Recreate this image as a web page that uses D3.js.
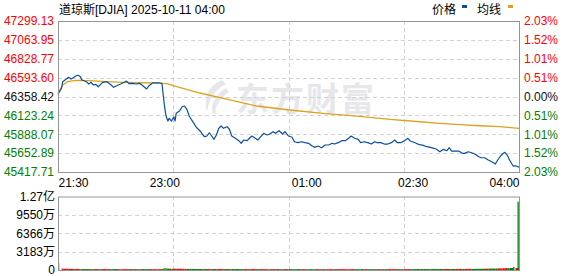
<!doctype html>
<html>
<head>
<meta charset="utf-8">
<title>DJIA intraday</title>
<script src="https://cdn.jsdelivr.net/npm/d3@7"></script>
<style>
  body { margin: 0; background: #fff; }
  svg { display: block; }
</style>
</head>
<body>
<svg id="chart" width="578" height="276"></svg>
<script>
// ---- data ----
const prevClose = 46358.42;
const priceTicks = [47299.13, 47063.95, 46828.77, 46593.60, 46358.42, 46123.24, 45888.07, 45652.89, 45417.71];
const pctLabels = ["2.03%", "1.52%", "1.01%", "0.51%", "0.00%", "0.51%", "1.01%", "1.52%", "2.03%"];
const timeMins = [0, 90, 210, 300, 390];
const timeLabels = ["21:30", "23:00", "01:00", "02:30", "04:00"];
const gridMins = [97.5, 195, 292.5];
const volTicks = [12733, 9550, 6366, 3183, 0];
const volLabels = ["1.27亿", "9550万", "6366万", "3183万", "0"];

// minutes after 21:30
const priceMin = [
  0, 3, 4, 7, 9, 11, 13, 15, 17, 19,
  20, 22, 24, 26, 28, 30, 32, 34, 36, 38,
  41, 43, 45, 47, 51, 53, 56, 58, 60, 63,
  66, 69, 71, 73, 75, 77, 80, 83, 85, 88,
  89, 90, 91, 92, 93, 94, 96, 98, 99, 100,
  103, 105, 107, 109, 111, 113, 115, 117, 120, 122,
  124, 126, 128, 130, 132, 134, 136, 138, 140, 143,
  145, 147, 150, 153, 155, 157, 160, 162, 164, 167,
  169, 171, 174, 177, 179, 182, 184, 187, 190, 192,
  195, 198, 200, 203, 206, 209, 212, 215, 217, 220,
  223, 226, 229, 232, 234, 237, 240, 243, 246, 248,
  251, 254, 256, 259, 262, 265, 268, 270, 273, 276,
  279, 282, 285, 287, 290, 293, 296, 298, 301, 303,
  306, 309, 312, 315, 318, 320, 323, 326, 329, 331,
  333, 336, 339, 342, 344, 347, 350, 353, 356, 358,
  361, 364, 367, 370, 372, 374, 376, 378, 380, 382,
  385, 387, 390
];
const priceVal = [
  46386, 46461, 46543, 46576, 46598, 46576, 46593, 46614, 46623, 46605,
  46568, 46555, 46543, 46514, 46535, 46502, 46510, 46480, 46510, 46535,
  46543, 46523, 46502, 46473, 46502, 46514, 46535, 46551, 46518, 46523,
  46514, 46523, 46502, 46477, 46452, 46493, 46527, 46527, 46530, 46518,
  46377, 46252, 46149, 46087, 46053, 46087, 46053, 46106, 46053, 46149,
  46181, 46231, 46240, 46199, 46115, 46066, 46024, 45975, 45932, 45891,
  45857, 45866, 45907, 45866, 45825, 45879, 45962, 45991, 45962, 45982,
  45950, 45866, 45838, 45808, 45775, 45816, 45808, 45838, 45866, 45838,
  45816, 45850, 45900, 45879, 45891, 45920, 45900, 45932, 45891, 45920,
  45866, 45850, 45795, 45783, 45795, 45783, 45775, 45741, 45725, 45741,
  45720, 45754, 45754, 45775, 45766, 45783, 45808, 45808, 45838, 45866,
  45838, 45825, 45783, 45795, 45783, 45766, 45795, 45783, 45783, 45766,
  45766, 45783, 45816, 45783, 45783, 45808, 45838, 45804, 45788, 45775,
  45758, 45750, 45733, 45725, 45713, 45704, 45670, 45700, 45683, 45720,
  45679, 45679, 45679, 45650, 45650, 45670, 45658, 45638, 45608, 45595,
  45595, 45567, 45546, 45517, 45567, 45608, 45642, 45663, 45629, 45567,
  45492, 45495, 45478
];
// volume, in 万
const volVal = [
  1180, 260, 210, 230, 190, 200, 170, 180, 160, 170,
  150, 160, 170, 150, 140, 160, 150, 140, 150, 160,
  150, 140, 150, 160, 140, 130, 150, 140, 150, 140,
  130, 140, 150, 160, 140, 150, 140, 130, 140, 150,
  260, 300, 280, 250, 240, 220, 210, 230, 200, 210,
  200, 190, 180, 190, 200, 180, 170, 180, 170, 160,
  170, 160, 150, 160, 170, 160, 170, 160, 150, 160,
  150, 160, 170, 150, 160, 150, 140, 150, 160, 150,
  140, 150, 140, 130, 140, 150, 140, 130, 140, 150,
  140, 130, 140, 150, 140, 130, 140, 130, 140, 130,
  140, 130, 140, 130, 140, 150, 140, 130, 140, 150,
  140, 130, 150, 140, 130, 140, 130, 140, 130, 140,
  150, 140, 150, 140, 130, 140, 150, 140, 150, 160,
  150, 160, 150, 160, 170, 160, 170, 180, 170, 180,
  170, 180, 190, 180, 190, 200, 190, 210, 200, 220,
  230, 240, 250, 260, 280, 270, 300, 320, 310, 350,
  520, 350, 11830
];
// average price line
const avgMin = [0, 4, 8, 15, 26, 41, 55, 69, 83, 92, 99, 111, 120, 140, 168, 196, 224, 253, 281, 306, 323, 340, 357, 374, 390];
const avgVal = [46398, 46502, 46543, 46560, 46555, 46543, 46535, 46530, 46527, 46518, 46489, 46439, 46402, 46336, 46240, 46190, 46149, 46115, 46074, 46044, 46024, 46007, 45994, 45982, 45962];

// ---- layout ----
const L = 58, R = 519, T = 21, B = 172, VT = 196.5, VB = 270;
const FONT = "'Liberation Sans', 'Noto Sans CJK SC', sans-serif";
const RED = "#ff0000", GREEN = "#008000";
const gridColor = "#d2d2d2";

const svg = d3.select("#chart");

const x = d3.scaleLinear().domain([0, 390]).range([L, R]);
const y = d3.scaleLinear().domain([priceTicks[8], priceTicks[0]]).range([B, T]);
const yv = d3.scaleLinear().domain([0, volTicks[0]]).range([VB, VT]);

function priceColor(v) {
  if (Math.abs(v - prevClose) < 0.01) return "#111";
  return v > prevClose ? RED : GREEN;
}

// watermark
const wm = svg.append("g").attr("fill", "#e7e7eb");
wm.append("path")
  .attr("d", "M222,80 C208,86 203,98 207,112 C209,100 214,90 226,84 Z M226,88 C216,94 212,103 214,113 C217,104 221,97 229,92 Z M218,96 C212,101 211,108 213,114 L216,114 C215,108 216,102 220,98 Z");
wm.append("text")
  .attr("x", 236)
  .attr("y", 111)
  .attr("font-family", "'Noto Sans CJK SC', sans-serif")
  .attr("font-weight", "bold")
  .attr("font-size", "33px")
  .attr("letter-spacing", "2px")
  .text("东方财富");

// grid, main chart
const grid = svg.append("g");
grid.append("g")
  .attr("transform", "translate(" + L + ",0)")
  .call(d3.axisLeft(y).tickValues(priceTicks.slice(1, 8)).tickSize(-(R - L)).tickFormat(""));
grid.append("g")
  .attr("transform", "translate(0," + B + ")")
  .call(d3.axisBottom(x).tickValues(gridMins).tickSize(T - B).tickFormat(""));
// grid, volume chart
grid.append("g")
  .attr("transform", "translate(" + L + ",0)")
  .call(d3.axisLeft(yv).tickValues(volTicks.slice(1, 4)).tickSize(-(R - L)).tickFormat(""));
grid.append("g")
  .attr("transform", "translate(0," + VB + ")")
  .call(d3.axisBottom(x).tickValues(gridMins).tickSize(VT - VB).tickFormat(""));
grid.selectAll(".domain").remove();
grid.selectAll("line")
  .attr("stroke", gridColor)
  .attr("stroke-dasharray", "4,3")
  .attr("shape-rendering", "crispEdges");

// volume bars
const bars = priceMin.map(function(m, i) {
  const up = i === 0 ? true : priceVal[i] >= priceVal[i - 1];
  const next = i < priceMin.length - 1 ? priceMin[i + 1] : m;
  return { m: m, v: volVal[i], up: up, w: volVal[i] > 400 ? 1.3 : x(next) - x(m) };
});
svg.append("g")
  .selectAll("rect")
  .data(bars)
  .enter()
  .append("rect")
    .attr("x", function(d) { return d.m === 390 ? x(d.m) - 1.5 : x(d.m); })
    .attr("y", function(d) { return yv(d.v); })
    .attr("width", function(d) { return d.w; })
    .attr("height", function(d) { return VB - yv(d.v); })
    .attr("fill", function(d) { return d.up ? RED : GREEN; });

// average line
const avgData = avgMin.map(function(m, i) { return [m, avgVal[i]]; });
svg.append("path")
  .datum(avgData)
  .attr("fill", "none")
  .attr("stroke", "#dda21f")
  .attr("stroke-width", 1.3)
  .attr("d", d3.line().x(function(d) { return x(d[0]); }).y(function(d) { return y(d[1]); }));

// price line
const priceData = priceMin.map(function(m, i) { return [m, priceVal[i]]; });
svg.append("path")
  .datum(priceData)
  .attr("fill", "none")
  .attr("stroke", "#0b4fa3")
  .attr("stroke-width", 1.2)
  .attr("stroke-linejoin", "round")
  .attr("d", d3.line().x(function(d) { return x(d[0]); }).y(function(d) { return y(d[1]); }));

// borders
svg.append("rect")
  .attr("x", L + 0.5).attr("y", T + 0.5)
  .attr("width", R - L).attr("height", B - T)
  .attr("fill", "none").attr("stroke", "#959595");
svg.append("rect")
  .attr("x", L + 0.5).attr("y", VT + 0.5)
  .attr("width", R - L).attr("height", VB - VT)
  .attr("fill", "none").attr("stroke", "#959595");

// left price labels
const leftAx = svg.append("g")
  .attr("transform", "translate(" + (L - 1) + ",0)")
  .call(d3.axisLeft(y).tickValues(priceTicks).tickSize(0).tickPadding(3)
    .tickFormat(function(d) { return d.toFixed(2); }));
leftAx.selectAll("text").attr("fill", function(d) { return priceColor(d); });

// right percent labels
const rightAx = svg.append("g")
  .attr("transform", "translate(" + (R + 1) + ",0)")
  .call(d3.axisRight(y).tickValues(priceTicks).tickSize(0).tickPadding(4)
    .tickFormat(function(d, i) { return pctLabels[i]; }));
rightAx.selectAll("text").attr("fill", function(d) { return priceColor(d); });

// time labels
const timeAx = svg.append("g")
  .attr("transform", "translate(0," + B + ")")
  .call(d3.axisBottom(x).tickValues(timeMins).tickSize(0).tickPadding(6)
    .tickFormat(function(d, i) { return timeLabels[i]; }));
timeAx.selectAll("text")
  .attr("fill", "#000")
  .attr("text-anchor", function(d, i) { return i === 0 ? "start" : (i === timeMins.length - 1 ? "end" : "middle"); });

// volume labels
const volAx = svg.append("g")
  .attr("transform", "translate(" + (L - 1) + ",0)")
  .call(d3.axisLeft(yv).tickValues(volTicks).tickSize(0).tickPadding(2)
    .tickFormat(function(d, i) { return volLabels[i]; }));
volAx.selectAll("text").attr("fill", "#000");

[leftAx, rightAx, timeAx, volAx].forEach(function(a) {
  a.select(".domain").remove();
  a.attr("font-family", FONT).attr("font-size", 12);
});

// title
svg.append("text")
  .attr("x", 59)
  .attr("y", 14)
  .attr("font-family", FONT)
  .attr("font-size", "12px")
  .attr("fill", "#000")
  .text("道琼斯[DJIA] 2025-10-11 04:00");

// legend
const legend = svg.append("g").attr("font-family", FONT).attr("font-size", "12px");
legend.append("text").attr("x", 432).attr("y", 14).text("价格");
legend.append("rect").attr("x", 462).attr("y", 5).attr("width", 5).attr("height", 3).attr("fill", "#0b4fa3");
legend.append("text").attr("x", 477).attr("y", 14).text("均线");
legend.append("rect").attr("x", 508).attr("y", 5).attr("width", 5).attr("height", 3).attr("fill", "#dda21f");
</script>
</body>
</html>
